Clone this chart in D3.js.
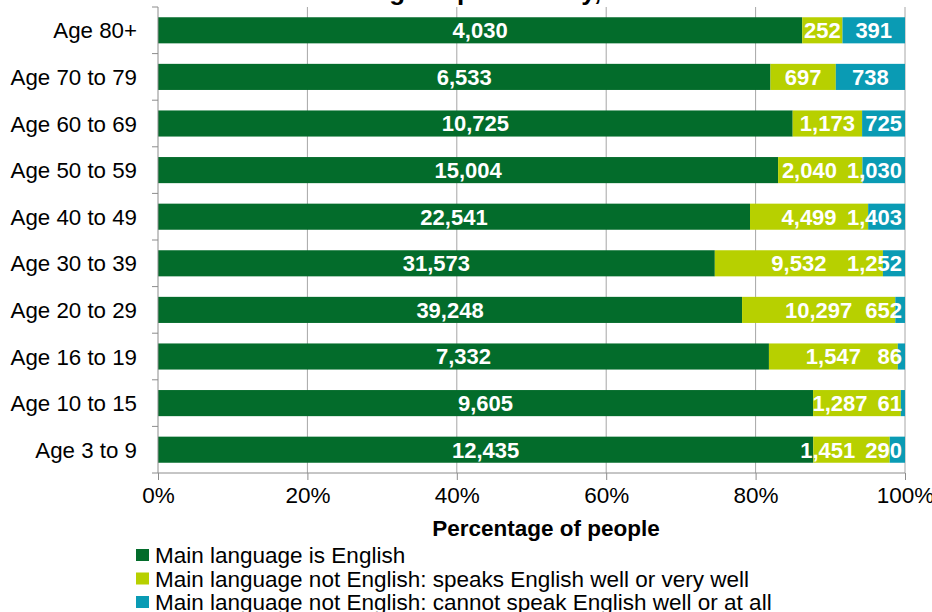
<!DOCTYPE html>
<html><head><meta charset="utf-8">
<script src="https://cdn.jsdelivr.net/npm/d3@7"></script>
<style>body{margin:0;background:#fff;} text{font-family:"Liberation Sans",Arial,sans-serif;}</style>
</head><body><svg id="c" width="932" height="612"></svg>
<script>
const categories = ["Age 80+","Age 70 to 79","Age 60 to 69","Age 50 to 59","Age 40 to 49","Age 30 to 39","Age 20 to 29","Age 16 to 19","Age 10 to 15","Age 3 to 9"];
const english    = [4030,6533,10725,15004,22541,31573,39248,7332,9605,12435];
const speaksWell = [252,697,1173,2040,4499,9532,10297,1547,1287,1451];
const cannot     = [391,738,725,1030,1403,1252,652,86,61,290];
const seriesNames = ["Main language is English","Main language not English: speaks English well or very well","Main language not English: cannot speak English well or at all"];
const seriesColors = ["#036c2b","#b7d000","#0a9bb4"];
const xTicks = [0,0.2,0.4,0.6,0.8,1];
const title = "English proficiency,";
const xTitle = "Percentage of people";

const svg = d3.select("#c");
const L=158,R=905,T=7,B=473;
const FS=22.5;
const x = d3.scaleLinear().domain([0,1]).range([L,R]);
const y = d3.scaleBand().domain(categories).range([T,B]).paddingInner(0.44).paddingOuter(0.22);
const yb = d3.scaleBand().domain(categories).range([T,B]);

svg.append("text").attr("x",356).attr("y",0)
  .attr("font-size",26).attr("font-weight","bold").text(title);

// gridlines
svg.append("g").selectAll("line").data(xTicks.slice(1)).join("line")
  .attr("x1",d=>x(d)).attr("x2",d=>x(d)).attr("y1",T).attr("y2",B)
  .attr("stroke","#a6a6a6").attr("stroke-width",1);

const rows = categories.map((c,i)=>{
  const vals=[english[i],speaksWell[i],cannot[i]];
  const tot=d3.sum(vals); let acc=0;
  return vals.map((v,k)=>{const s={cat:c,i,k,v,x0:acc/tot,x1:(acc+v)/tot}; acc+=v; return s;});
}).flat();

svg.append("g").selectAll("rect").data(rows).join("rect")
  .attr("x",d=>x(d.x0)).attr("width",d=>x(d.x1)-x(d.x0))
  .attr("y",d=>y(d.cat)).attr("height",y.bandwidth())
  .attr("fill",d=>seriesColors[d.k]);

const lblG = svg.append("g");
const lbl = lblG.selectAll("text").data(rows).join("text")
  .attr("x",d=>(x(d.x0)+x(d.x1))/2).attr("y",d=>y(d.cat)+y.bandwidth()/2)
  .attr("dy","0.36em").attr("text-anchor","middle")
  .attr("font-size",22).attr("font-weight","bold").attr("fill","#fff")
  .text(d=>d3.format(",")(d.v));
// keep labels inside plot area and avoid overlaps (right to left)
const gap=10;
categories.forEach((c,i)=>{
  const nodes = lbl.filter(d=>d.i===i).nodes();
  let limit = R-3;
  for(let k=nodes.length-1;k>=0;k--){
    const n=nodes[k], w=n.getComputedTextLength();
    let cx=+n.getAttribute("x");
    if(cx+w/2>limit){ cx=limit-w/2; n.setAttribute("x",cx); }
    limit = cx-w/2-gap;
  }
});

// y axis
const ya = svg.append("g").attr("transform",`translate(${L},0)`);
ya.append("line").attr("x1",0).attr("x2",0).attr("y1",T).attr("y2",B).attr("stroke","#8c8c8c");
ya.selectAll("line.t").data(categories.concat(["end"])).join("line").attr("class","t")
  .attr("x1",-6).attr("x2",0)
  .attr("y1",(d,i)=>T+i*yb.step()).attr("y2",(d,i)=>T+i*yb.step()).attr("stroke","#8c8c8c");
ya.selectAll("text").data(categories).join("text")
  .attr("x",-21).attr("y",d=>yb(d)+yb.bandwidth()/2).attr("dy","0.36em")
  .attr("text-anchor","end").attr("font-size",22.3).attr("fill","#000").text(d=>d);

// x axis
const xa = svg.append("g").attr("transform",`translate(0,${B})`)
  .call(d3.axisBottom(x).tickValues(xTicks).tickFormat(d3.format(".0%")).tickSize(7).tickPadding(7));
xa.select(".domain").attr("stroke","#8c8c8c").attr("d",`M${L},0H${R}`);
xa.selectAll(".tick line").attr("stroke","#8c8c8c");
xa.selectAll(".tick text").attr("font-size",FS).attr("fill","#000").attr("font-family","Liberation Sans, Arial, sans-serif");

svg.append("text").attr("x",546).attr("y",536).attr("text-anchor","middle")
  .attr("font-size",FS).attr("font-weight","bold").text(xTitle);

// legend
const lg = svg.append("g").selectAll("g").data(seriesNames).join("g")
  .attr("transform",(d,i)=>`translate(136,${555+i*23.5})`);
lg.append("rect").attr("x",0).attr("y",-6).attr("width",13).attr("height",12).attr("fill",(d,i)=>seriesColors[i]);
lg.append("text").attr("x",19).attr("y",0).attr("dy","0.36em").attr("font-size",FS).text(d=>d);
</script></body></html>
